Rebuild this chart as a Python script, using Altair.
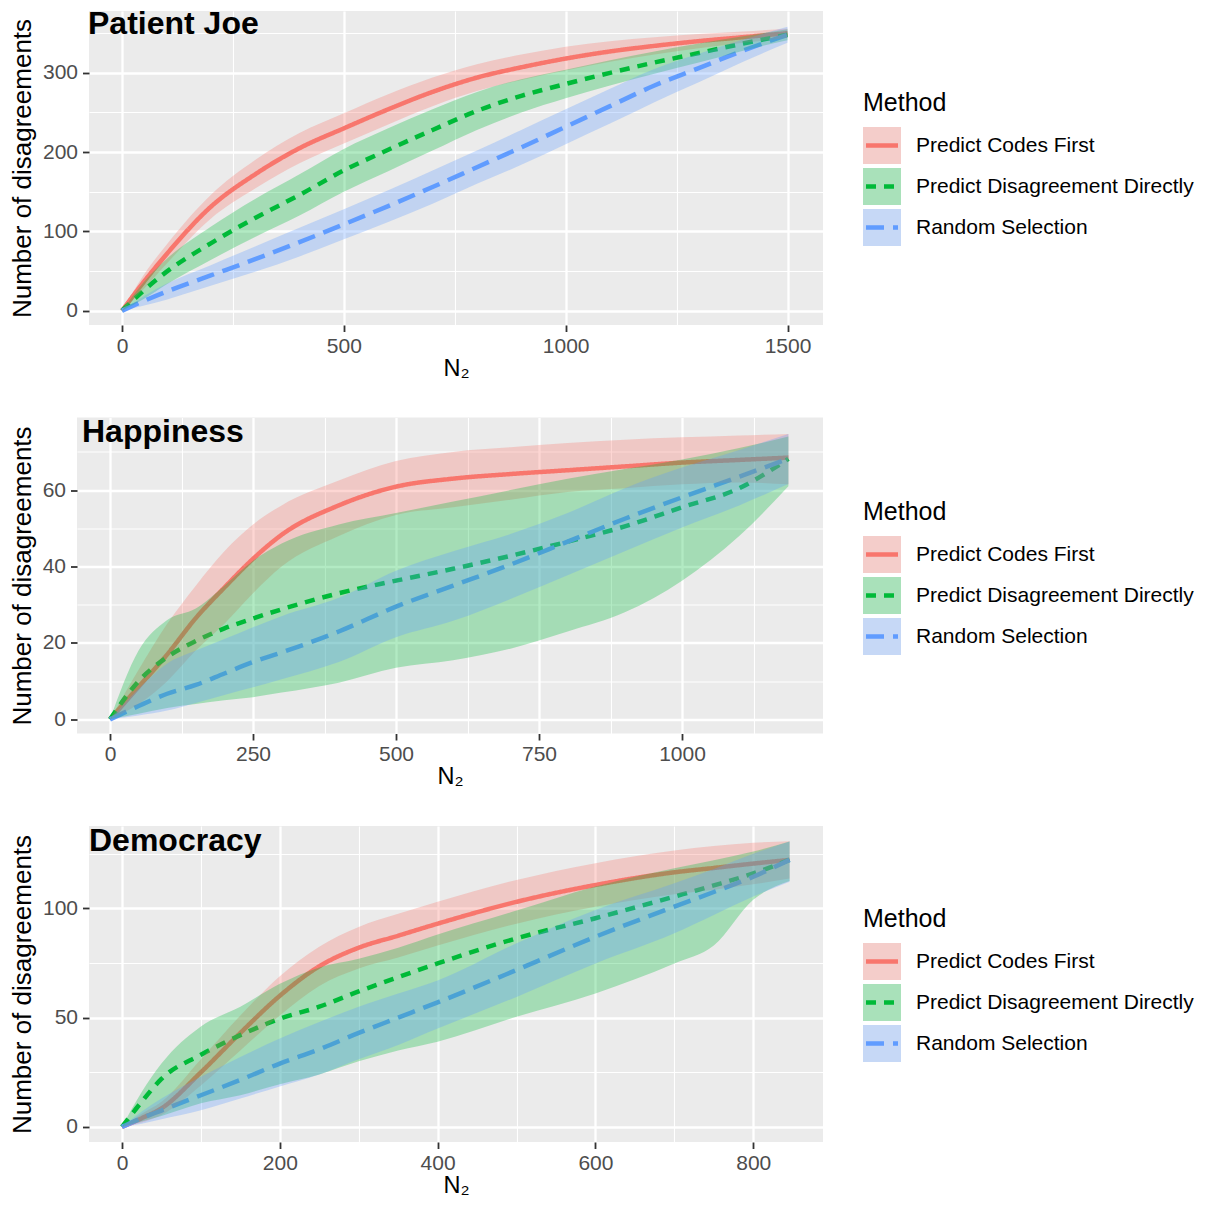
import json
import altair as alt
import pandas as pd

METHODS = ["Predict Codes First", "Predict Disagreement Directly", "Random Selection"]
COLORS = ["#F8766D", "#00BA38", "#619CFF"]
DASHES = [[1, 0], [10, 8], [18, 9]]

# ---- Patient Joe ----
pj_n2 = [0, 50, 100, 200, 300, 400, 500, 600, 700, 800, 900, 1000, 1100, 1200, 1300, 1400, 1500]
pj_codes_mean = [0, 37, 71, 131, 172, 205, 230, 254, 276, 294, 307, 318, 327, 334, 340, 345, 350]
pj_codes_lo = [0, 28, 59, 116, 154, 186, 211, 235, 258, 277, 291, 303, 314, 323, 331, 338, 344]
pj_codes_hi = [0, 46, 83, 146, 190, 224, 249, 273, 294, 311, 323, 333, 340, 345, 349, 352, 356]
pj_direct_mean = [0, 26, 49, 85, 117, 146, 177, 203, 228, 252, 271, 286, 300, 313, 325, 337, 348]
pj_direct_lo = [0, 15, 33, 64, 93, 120, 150, 176, 202, 228, 250, 268, 284, 299, 313, 328, 341]
pj_direct_hi = [0, 37, 65, 106, 141, 172, 204, 230, 254, 276, 292, 304, 316, 327, 337, 346, 355]
pj_random_mean = [0, 12.5, 24, 44.5, 65, 86.5, 109, 132, 156, 181, 206, 232, 258, 284, 306, 328, 348]
pj_random_lo = [0, 6.5, 14, 31.5, 49, 68.5, 90, 112, 135, 160, 184, 210, 236, 263, 288, 314, 338]
pj_random_hi = [0, 18.5, 34, 57.5, 81, 104.5, 128, 152, 177, 202, 228, 254, 280, 305, 324, 342, 358]

# ---- Happiness ----
hp_n2 = [0, 50, 100, 150, 200, 250, 300, 400, 500, 600, 700, 800, 900, 1000, 1100, 1186]
hp_codes_mean = [0, 8.5, 17, 26.5, 34.5, 42, 48.3, 56, 60.9, 63, 64.2, 65.2, 66.2, 67.2, 67.9, 68.5]
hp_codes_lo = [0, 4, 10, 18, 25, 33, 40, 48, 53.5, 55.5, 57.5, 59.5, 60.5, 61.5, 62, 61.5]
hp_codes_hi = [0, 13, 25, 35, 44, 51, 56, 62.5, 67.6, 70, 71.2, 72.3, 73.2, 73.8, 74.3, 74.7]
hp_direct_mean = [0, 10, 16.3, 20.5, 23.8, 26.4, 28.8, 33, 36.3, 39.4, 42.8, 46.5, 50.5, 55.5, 60.5, 68.2]
hp_direct_lo = [0, 1.5, 3, 4, 5, 5.8, 7, 9.6, 13.5, 15.5, 18.5, 23, 28, 36.3, 48, 61]
hp_direct_hi = [0, 18, 26, 29, 35, 41.5, 46, 51, 54, 57, 60, 63, 65.5, 68, 71, 74]
hp_random_mean = [0, 3.5, 6.7, 9, 12, 15, 17.5, 23, 29.5, 35, 40.5, 46.5, 52.5, 58.1, 63.5, 68.2]
hp_random_lo = [0, 1, 2.3, 4.3, 6.4, 8.4, 10.5, 15, 21.5, 25.8, 31.5, 37.7, 44, 50.2, 56, 61.6]
hp_random_hi = [0, 8, 14.6, 18, 21, 24.1, 27, 31.8, 38.9, 44, 48.5, 54, 60.5, 65.9, 70.5, 74.7]

# ---- Democracy ----
dm_n2 = [0, 25, 50, 100, 150, 200, 250, 300, 350, 400, 500, 600, 700, 750, 800, 846]
dm_codes_mean = [0, 4, 8.5, 25, 43, 60, 73.5, 82, 87.5, 93, 103, 110.7, 116.5, 118.5, 120.5, 122.2]
dm_codes_lo = [0, 2, 5.5, 19, 35, 51, 64.5, 72.5, 77.5, 83, 93, 100.7, 106.5, 108.5, 111, 113.7]
dm_codes_hi = [0, 6, 11.5, 31, 51, 69, 82.5, 91.5, 97.5, 103, 113, 120.7, 126.5, 128.5, 130, 130.7]
dm_direct_mean = [0, 11.5, 22, 33, 42, 49.5, 55, 62, 68.5, 74.8, 86.3, 95.5, 105.4, 110.5, 116, 122.2]
dm_direct_lo = [0, 2.5, 5, 10.8, 14.5, 19.5, 24, 30, 35, 39, 50.4, 61.1, 74.8, 83, 104, 112.5]
dm_direct_hi = [0, 16, 29, 46, 55, 65.5, 73, 77, 82, 88, 99, 110, 118.4, 122, 126, 130.6]
dm_random_mean = [0, 4, 7.5, 14.5, 21.5, 29, 35.5, 43, 50, 57, 71.8, 87, 100.8, 107.5, 114.5, 122.2]
dm_random_lo = [0, 1.5, 3.5, 7.6, 13, 18.5, 24, 31, 37.5, 45, 59.5, 74.8, 88.6, 97, 105.4, 112.2]
dm_random_hi = [0, 7, 13, 23, 32, 40.5, 48, 55, 61, 67, 84, 99.3, 111.5, 118, 125, 130.6]

# axis breaks
pj_x_major, pj_x_minor = [0, 500, 1000, 1500], [250, 750, 1250]
pj_y_major, pj_y_minor = [0, 100, 200, 300], [50, 150, 250, 350]
hp_x_major, hp_x_minor = [0, 250, 500, 750, 1000], [125, 375, 625, 875, 1125]
hp_y_major, hp_y_minor = [0, 20, 40, 60], [10, 30, 50, 70]
dm_x_major, dm_x_minor = [0, 200, 400, 600, 800], [100, 300, 500, 700]
dm_y_major, dm_y_minor = [0, 50, 100], [25, 75, 125]

FONT = "Liberation Sans"


def make_axis(major, minor, title):
    test = f"indexof({json.dumps(minor)}, datum.value) >= 0"
    return alt.Axis(
        values=sorted(major + minor),
        title=title,
        format="d",
        labelExpr=f"{test} ? '' : datum.label",
        labelOverlap=False,
        labelFlush=False,
        gridWidth={"condition": {"test": test, "value": 1.1}, "value": 2.3},
        tickOpacity={"condition": {"test": test, "value": 0}, "value": 1},
    )


def build_panel(name, n2, series, xdom, ydom, xb, yb, w, h, tdx, tdy):
    rows = []
    for method, (mean, lo, hi) in zip(METHODS, series):
        for a, m, l, u in zip(n2, mean, lo, hi):
            rows.append({"N2": a, "Method": method, "mean": m, "lo": l, "hi": u})
    df = pd.DataFrame(rows)
    xaxis = make_axis(xb[0], xb[1], "N₂")
    yaxis = make_axis(yb[0], yb[1], "Number of disagreements")
    xs = alt.Scale(domain=xdom, nice=False, zero=False)
    ys = alt.Scale(domain=ydom, nice=False, zero=False)
    color = alt.Color("Method:N", scale=alt.Scale(domain=METHODS, range=COLORS), legend=None)
    dash = alt.StrokeDash("Method:N", scale=alt.Scale(domain=METHODS, range=DASHES), legend=None)
    base = alt.Chart(df)
    lines = base.mark_line(strokeWidth=4.5, strokeCap="butt", interpolate="monotone").encode(
        x=alt.X("N2:Q", scale=xs, axis=xaxis),
        y=alt.Y("mean:Q", scale=ys, axis=yaxis),
        color=color,
        strokeDash=dash,
    )
    bands = base.mark_area(opacity=0.3, interpolate="monotone").encode(
        x=alt.X("N2:Q", scale=xs, axis=xaxis),
        y=alt.Y("lo:Q", scale=ys, axis=yaxis, stack=None),
        y2="hi:Q",
        color=color,
    )
    return alt.layer(lines, bands).properties(
        width=w,
        height=h,
        view=alt.ViewBackground(fill="#EBEBEB", stroke=None),
        title=alt.TitleParams(
            name, anchor="start", frame="group", fontSize=32, fontWeight="bold",
            color="black", font=FONT, offset=0, dx=tdx, dy=tdy,
        ),
    )


def build_legend(h, r0, tdy):
    ldf = pd.DataFrame({"Method": METHODS})
    ly = alt.Y("Method:N", axis=None,
               scale=alt.Scale(domain=METHODS, range=[r0, r0 + 123],
                               paddingInner=0.1, paddingOuter=0.05))
    color = alt.Color("Method:N", scale=alt.Scale(domain=METHODS, range=COLORS), legend=None)
    dash = alt.StrokeDash("Method:N", scale=alt.Scale(domain=METHODS, range=DASHES), legend=None)
    base = alt.Chart(ldf)
    keybg = base.mark_rect(color="#F2F2F2").encode(y=ly, x=alt.value(0), x2=alt.value(38))
    keyline = base.mark_rule(strokeWidth=4.5, strokeCap="butt").encode(
        y=ly, x=alt.value(3), x2=alt.value(35), color=color, strokeDash=dash)
    keyfill = base.mark_rect(opacity=0.3).encode(
        y=ly, x=alt.value(0), x2=alt.value(38), color=color)
    labels = base.mark_text(align="left", baseline="middle", fontSize=21, color="black",
                            font=FONT).encode(y=ly, x=alt.value(53), text="Method:N")
    return alt.layer(keybg, keyline, keyfill, labels).properties(
        width=340,
        height=h,
        title=alt.TitleParams("Method", anchor="start", frame="group", fontSize=25,
                              fontWeight="normal", color="black", font=FONT,
                              offset=0, dy=tdy),
    )


def spacer():
    # invisible 1px column so that every row starts flush at its left bound
    return alt.Chart(pd.DataFrame({"s": [0]})).mark_point(opacity=0, size=0, strokeWidth=0).encode(
        x=alt.value(0), y=alt.value(0)).properties(width=1, height=10)


p1 = build_panel(
    "Patient Joe", pj_n2,
    [(pj_codes_mean, pj_codes_lo, pj_codes_hi),
     (pj_direct_mean, pj_direct_lo, pj_direct_hi),
     (pj_random_mean, pj_random_lo, pj_random_hi)],
    [-74.4, 1580], [-18, 378], (pj_x_major, pj_x_minor), (pj_y_major, pj_y_minor),
    734, 314, -1, 30)
p2 = build_panel(
    "Happiness", hp_n2,
    [(hp_codes_mean, hp_codes_lo, hp_codes_hi),
     (hp_direct_mean, hp_direct_lo, hp_direct_hi),
     (hp_random_mean, hp_random_lo, hp_random_hi)],
    [-57.7, 1246.5], [-3.7, 79], (hp_x_major, hp_x_minor), (hp_y_major, hp_y_minor),
    746, 316, 5, 31)
p3 = build_panel(
    "Democracy", dm_n2,
    [(dm_codes_mean, dm_codes_lo, dm_codes_hi),
     (dm_direct_mean, dm_direct_lo, dm_direct_hi),
     (dm_random_mean, dm_random_lo, dm_random_hi)],
    [-41.8, 888.4], [-6.9, 137.7], (dm_x_major, dm_x_minor), (dm_y_major, dm_y_minor),
    734, 316, 0, 31.5)

l1 = build_legend(314, 114, 105)
l2 = build_legend(316, 116.5, 107)
l3 = build_legend(316, 115, 105.5)


def row(panel, legend):
    return alt.hconcat(alt.hconcat(spacer(), panel, spacing=0), legend, spacing=40)


chart = alt.vconcat(
    row(p1, l1), row(p2, l2), row(p3, l3), spacing=35.5,
).properties(
    padding={"left": 0, "top": 0, "right": 0, "bottom": 0},
    background="white",
).configure(
    font=FONT,
).configure_view(
    stroke=None,
).configure_axis(
    domain=False,
    gridColor="white",
    tickColor="#333333",
    tickWidth=1.8,
    tickSize=6.5,
    labelPadding=5,
    labelFont=FONT,
    labelFontSize=21,
    labelColor="#4D4D4D",
    titleFont=FONT,
    titleFontSize=26,
    titleFontWeight="normal",
    titleColor="black",
    titlePadding=6,
).configure_axisX(
    labelPadding=3.5,
    titlePadding=0,
    titleFontSize=23.5,
).configure_axisY(
    labelPadding=5,
    titlePadding=7,
)

chart.save("out.html", embed_options={"renderer": "svg", "actions": False})
